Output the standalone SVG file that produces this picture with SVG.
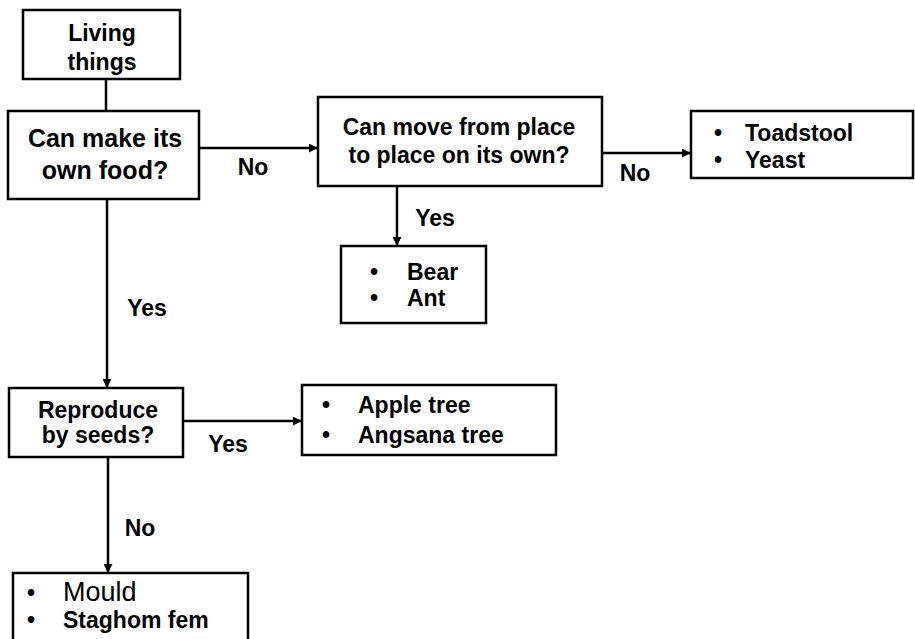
<svg xmlns="http://www.w3.org/2000/svg" width="915" height="639" viewBox="0 0 915 639">
<defs>
<marker id="arr" viewBox="0 0 10 10" refX="9" refY="5" markerWidth="9" markerHeight="9" markerUnits="userSpaceOnUse" orient="auto">
<path d="M0,0 L10,5 L0,10 z" fill="#000"/>
</marker>
<style>
.box{fill:#fff;stroke:#000;stroke-width:2.5}
.t{font-family:"Liberation Sans",Arial,sans-serif;font-size:23px;font-weight:bold;fill:#000}
.c{text-anchor:middle}
.big{font-weight:normal;font-size:27px}
.lg{font-size:25px}
.ln{stroke:#000;stroke-width:2.5;fill:none}
</style>
</defs>
<rect width="915" height="639" fill="#fff"/>
<g id="connectors">
<line class="ln" x1="106" y1="78" x2="106" y2="111"/>
<line class="ln" x1="199" y1="148" x2="317" y2="148" marker-end="url(#arr)"/>
<line class="ln" x1="602" y1="153" x2="690" y2="153" marker-end="url(#arr)"/>
<line class="ln" x1="397" y1="186" x2="397" y2="245" marker-end="url(#arr)"/>
<line class="ln" x1="107" y1="199" x2="107" y2="387" marker-end="url(#arr)"/>
<line class="ln" x1="183" y1="421" x2="301" y2="421" marker-end="url(#arr)"/>
<line class="ln" x1="108" y1="457" x2="108" y2="572" marker-end="url(#arr)"/>
<text class="t c" x="253" y="175">No</text>
<text class="t c" x="635" y="181">No</text>
<text class="t c" x="435" y="226">Yes</text>
<text class="t c" x="147" y="316">Yes</text>
<text class="t c" x="228" y="452">Yes</text>
<text class="t c" x="140" y="536">No</text>
</g>
<g id="living">
<rect class="box" x="23" y="10" width="157" height="69"/>
<text class="t c" x="102" y="41">Living</text>
<text class="t c" x="102" y="70">things</text>
</g>
<g id="make-food">
<rect class="box" x="8" y="111" width="191" height="88"/>
<text class="t c lg" x="105" y="147">Can make its</text>
<text class="t c lg" x="105" y="179">own food?</text>
</g>
<g id="move">
<rect class="box" x="318" y="97" width="284" height="89"/>
<text class="t c" x="459" y="135">Can move from place</text>
<text class="t c" x="459" y="163">to place on its own?</text>
</g>
<g id="toadstool">
<rect class="box" x="691" y="111" width="222" height="67"/>
<text class="t" x="714" y="141">•</text>
<text class="t" x="745" y="141">Toadstool</text>
<text class="t" x="714" y="168">•</text>
<text class="t" x="745" y="168">Yeast</text>
</g>
<g id="bear">
<rect class="box" x="341" y="246" width="145" height="77"/>
<text class="t" x="370" y="280">•</text>
<text class="t" x="407" y="280">Bear</text>
<text class="t" x="370" y="306">•</text>
<text class="t" x="407" y="306">Ant</text>
</g>
<g id="seeds">
<rect class="box" x="9" y="388" width="174" height="69"/>
<text class="t c" x="98" y="418">Reproduce</text>
<text class="t c" x="98" y="443">by seeds?</text>
</g>
<g id="apple">
<rect class="box" x="302" y="385" width="254" height="70"/>
<text class="t" x="322" y="413">•</text>
<text class="t" x="358" y="413">Apple tree</text>
<text class="t" x="322" y="443">•</text>
<text class="t" x="358" y="443">Angsana tree</text>
</g>
<g id="mould">
<rect class="box" x="13" y="573" width="235" height="80"/>
<text class="t" x="27" y="601">•</text>
<text class="t big" x="63" y="601">Mould</text>
<text class="t" x="27" y="628">•</text>
<text class="t" x="63" y="628">Staghom fem</text>
</g>
</svg>
